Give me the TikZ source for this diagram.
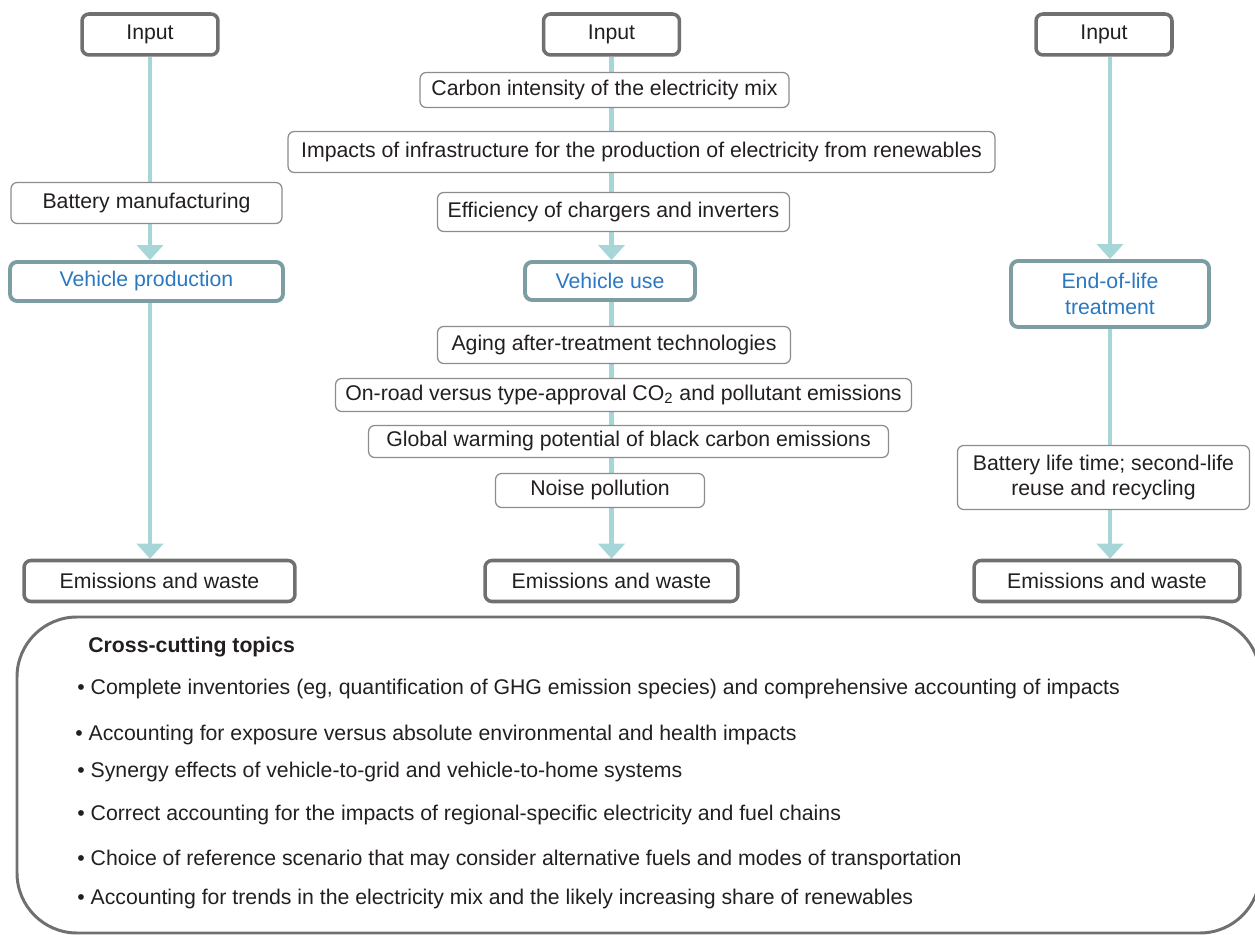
\documentclass[tikz,border=0pt]{standalone}
\usepackage{fontspec}
\setmainfont{Liberation Sans}
\usetikzlibrary{arrows.meta,backgrounds}

\definecolor{feedcol}{HTML}{A6D6D8}
\definecolor{framegray}{HTML}{707070}
\definecolor{phasecol}{HTML}{7C9DA1}
\definecolor{phasetext}{HTML}{2A78C2}
\definecolor{thingray}{HTML}{8C8C8C}
\definecolor{inkcol}{HTML}{231F20}

\begin{document}
\begin{tikzpicture}[
    x=0.02cm, y=-0.02cm,
    every node/.style={font=\fontsize{12.1pt}{14.5pt}\selectfont, text=inkcol},
    endbox/.style={rectangle, draw=framegray, line width=2pt, rounded corners=4pt, fill=white, minimum height=0.82cm, inner sep=0pt},
    stage/.style={rectangle, draw=phasecol, line width=2.2pt, rounded corners=4pt, fill=white, text=phasetext, align=center, inner sep=0pt},
    factor/.style={rectangle, draw=thingray, line width=0.7pt, rounded corners=3.5pt, fill=white, align=center, inner sep=0pt},
    item/.style={anchor=west, inner sep=0pt},
    feed/.style={draw=feedcol, line width=2.8pt},
    arrow/.style={feed, -{Triangle[width=0.52cm, length=0.3cm]}}
]
\useasboundingbox (0,0) rectangle (1255,935);

% Inputs
\node[endbox, minimum width=2.72cm] (in1) at (150,34.5) {Input};
\node[endbox, minimum width=2.72cm] (in2) at (611.5,34.5) {Input};
\node[endbox, minimum width=2.72cm] (in3) at (1104,34.5) {Input};

% Vehicle production
\node[factor, minimum width=5.42cm, minimum height=0.82cm] (bat) at (146.5,203) {Battery manufacturing};
\node[stage, minimum width=5.46cm, minimum height=0.78cm] (prod) at (146.5,281.5) {Vehicle production};

% Vehicle use
\node[factor, minimum width=7.38cm, minimum height=0.70cm] (carbon) at (604.5,90) {Carbon intensity of the electricity mix};
\node[factor, minimum width=14.14cm, minimum height=0.82cm] (infra) at (641.5,152) {Impacts of infrastructure for the production of electricity from renewables};
\node[factor, minimum width=7.04cm, minimum height=0.78cm] (eff) at (613.5,212) {Efficiency of chargers and inverters};
\node[stage, minimum width=3.40cm, minimum height=0.76cm] (use) at (610,281) {Vehicle use};
\node[factor, minimum width=7.06cm, minimum height=0.74cm] (aging) at (614,345) {Aging after-treatment technologies};
\node[factor, minimum width=11.52cm, minimum height=0.66cm] (onroad) at (623.5,395) {On-road versus type-approval CO\textsubscript{2} and pollutant emissions};
\node[factor, minimum width=10.40cm, minimum height=0.64cm] (gwp) at (628.5,441.5) {Global warming potential of black carbon emissions};
\node[factor, minimum width=4.18cm, minimum height=0.68cm] (noise) at (600,490.5) {Noise pollution};

% End of life
\node[stage, minimum width=3.96cm, minimum height=1.32cm] (eol) at (1110,294) {End-of-life\\treatment};
\node[factor, minimum width=5.84cm, minimum height=1.28cm] (life) at (1103.5,477.5) {Battery life time; second-life\\reuse and recycling};

% Outputs
\node[endbox, minimum width=5.42cm] (em1) at (159.5,581) {Emissions and waste};
\node[endbox, minimum width=5.06cm] (em2) at (611.5,581) {Emissions and waste};
\node[endbox, minimum width=5.32cm] (em3) at (1107,581) {Emissions and waste};

% Flows (behind the boxes)
\begin{scope}[on background layer]
\draw[feed] (in1.south) -- (in1.south |- bat.north);
\draw[arrow] (bat.south -| in1) -- (in1 |- prod.north);
\draw[arrow] (prod.south -| in1) -- (in1 |- em1.north);
\draw[arrow] (in2.south) -- (in2.south |- use.north);
\draw[arrow] (use.south -| in2) -- (in2 |- em2.north);
\draw[arrow] (eol.north |- in3.south) -- (eol.north);
\draw[feed] (eol.south) -- (eol.south |- life.north);
\draw[arrow] (life.south -| eol) -- (eol |- em3.north);
\end{scope}

% Cross-cutting topics
\draw[framegray, line width=1.7pt, rounded corners=1.2cm] (17,617) rectangle (1260,933);
\node[item] (cchead) at (88,647) {\bfseries Cross-cutting topics};
\node[item] (cc1) at (77,689) {\textbullet\ Complete inventories (eg, quantification of GHG emission species) and comprehensive accounting of impacts};
\node[item] (cc2) at (75,735) {\textbullet\ Accounting for exposure versus absolute environmental and health impacts};
\node[item] (cc3) at (77,772) {\textbullet\ Synergy effects of vehicle-to-grid and vehicle-to-home systems};
\node[item] (cc4) at (77,815) {\textbullet\ Correct accounting for the impacts of regional-specific electricity and fuel chains};
\node[item] (cc5) at (77,860) {\textbullet\ Choice of reference scenario that may consider alternative fuels and modes of transportation};
\node[item] (cc6) at (77,899) {\textbullet\ Accounting for trends in the electricity mix and the likely increasing share of renewables};

\end{tikzpicture}
\end{document}
